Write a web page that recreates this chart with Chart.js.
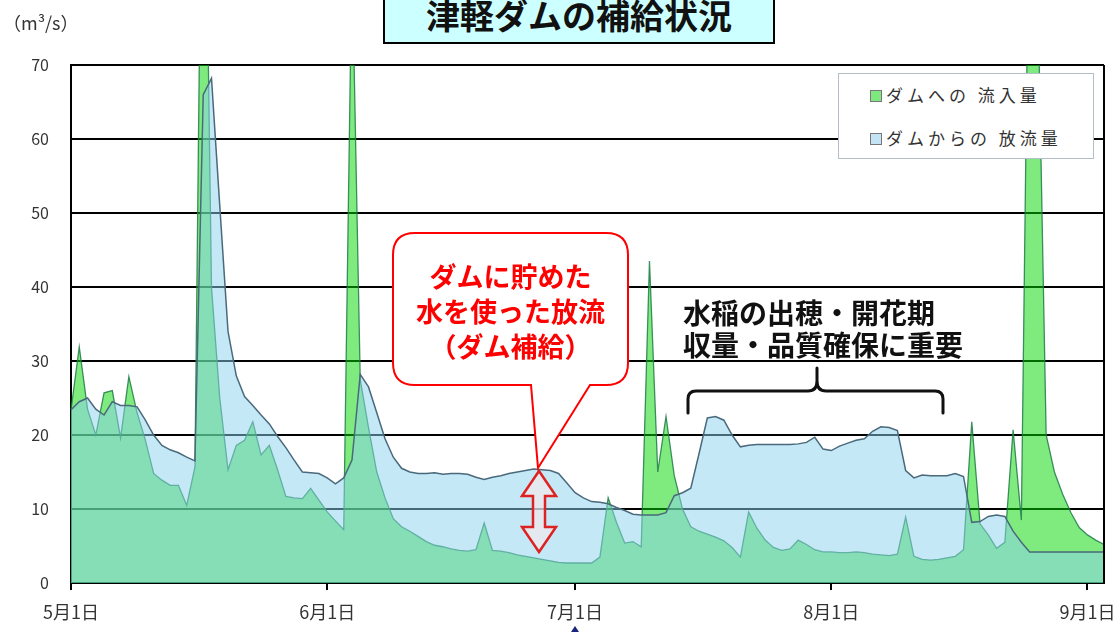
<!DOCTYPE html>
<html><head><meta charset="utf-8">
<script src="https://cdn.jsdelivr.net/npm/chart.js@4.4.1/dist/chart.umd.min.js"></script>
<style>
html,body{margin:0;padding:0;background:#fff;}
#wrap{position:relative;width:1114px;height:632px;overflow:hidden;font-family:"Noto Sans CJK JP","Noto Sans",sans-serif;}
canvas{position:absolute;left:0;top:0;}
.abs{position:absolute;white-space:nowrap;}
#title{left:383px;top:-12px;width:388px;height:52px;border:2px solid #000;background:#ccffff;}
#titleText{left:383px;top:-6px;width:392px;text-align:center;font-size:34px;font-weight:bold;line-height:42px;color:#111;}
#unit{left:3px;top:9px;font-size:18px;color:#333;}
#legend{left:838px;top:73px;width:254px;height:84px;border:1px solid #b4bcc4;background:#fff;}
.li{position:absolute;left:31px;font-size:17px;letter-spacing:4px;color:#333;line-height:20px;}
.sw{display:inline-block;width:10px;height:10px;border:1px solid #777;margin-right:4px;vertical-align:0px;}
#callout{left:393px;top:258px;width:235px;text-align:center;font-size:27px;font-weight:bold;line-height:35px;color:#ff0000;}
#noteBg{left:665px;top:291px;width:320px;height:66px;background:#fff;}
#note{left:683px;top:296px;font-size:28px;font-weight:bold;line-height:32px;color:#111;}
</style></head>
<body>
<div id="wrap">
<canvas id="c" width="1114" height="632"></canvas>
<div id="title" class="abs"></div>
<div id="titleText" class="abs">津軽ダムの補給状況</div>
<div id="unit" class="abs">（m³/s）</div>
<div id="legend" class="abs">
  <div class="li" style="top:11px;"><span class="sw" style="background:#7fe87f;"></span>ダムへの 流入量</div>
  <div class="li" style="top:54px;"><span class="sw" style="background:#c4e4f4;"></span>ダムからの 放流量</div>
</div>
<div id="noteBg" class="abs"></div>
<div id="note" class="abs">水稲の出穂・開花期<br>収量・品質確保に重要</div>
<div id="callout" class="abs">ダムに貯めた<br>水を使った放流<br>（ダム補給）</div>
</div>
<script>
// ---- data ----
const monthNames = [5, 6, 7, 8, 9];
const monthLengths = [31, 30, 31, 31, 3];
const yTicks = [0, 10, 20, 30, 40, 50, 60, 70];

const inflow = [
  23.4, 31.9, 23.5, 20.0, 25.7, 26.0, 19.6, 27.9, 23.0, 19.3,
  14.8, 13.9, 13.2, 13.2, 10.5, 15.7, 120, 40, 25, 15.3,
  18.6, 19.3, 21.8, 17.3, 18.6, 15.3, 11.7, 11.5, 11.4, 12.8,
  11.2, 9.6, 8.4, 7.2, 85, 27.5, 21, 15, 11.5, 8.7,
  7.6, 7.0, 6.3, 5.6, 5.1, 4.9, 4.6, 4.4, 4.3, 4.5,
  8.1, 4.4, 4.3, 4.1, 3.8, 3.6, 3.4, 3.2, 3.0, 2.8,
  2.7, 2.7, 2.7, 2.7, 3.5, 11.5, 8.2, 5.4, 5.6, 4.9,
  43.5, 15, 22.5, 14.5, 10, 7.6, 7.0, 6.6, 6.2, 5.7,
  4.8, 3.5, 9.6, 7.4, 5.8, 4.8, 4.4, 4.6, 5.8, 5.2,
  4.5, 4.2, 4.2, 4.1, 4.1, 4.2, 4.1, 3.9, 3.8, 3.7,
  3.9, 8.9, 3.6, 3.2, 3.1, 3.2, 3.4, 3.6, 4.5, 21.8,
  8.0, 6.5, 4.7, 5.5, 20.7, 8.5, 100, 80, 20, 15,
  12, 9.5, 7.5, 6.5, 5.8, 5.2
];
const outflow = [
  23.4, 24.5, 25.0, 23.5, 22.7, 24.5, 24.0, 24.0, 23.8, 22.0,
  20.0, 18.6, 18.0, 17.6, 17.0, 16.5, 66, 68.2, 51, 34,
  28, 25.2, 24, 22.7, 21.5, 19.8, 18.3, 16.6, 15, 14.9,
  14.8, 14.2, 13.4, 14.2, 16.6, 28.2, 26.5, 23, 19.5, 17,
  15.5, 15, 14.8, 14.8, 14.9, 14.7, 14.8, 14.8, 14.7, 14.3,
  14.0, 14.3, 14.5, 14.8, 15.0, 15.2, 15.4, 15.3, 15.2, 14.8,
  13.5, 12.2, 11.5, 11.0, 10.9, 10.7, 10.2, 9.8, 9.3, 9.2,
  9.2, 9.2, 9.5, 11.8, 12.2, 12.8, 17.5, 22.3, 22.5, 22.0,
  20.0, 18.4, 18.6, 18.7, 18.7, 18.7, 18.7, 18.7, 18.8, 19.0,
  19.7, 18.1, 17.9, 18.5, 18.9, 19.3, 19.5, 20.5, 21.1, 21.0,
  20.6, 15.2, 14.2, 14.6, 14.5, 14.5, 14.5, 14.8, 14.4, 8.2,
  8.3, 9.0, 9.2, 9.0, 7.0, 5.5, 4.2, 4.2, 4.2, 4.2,
  4.2, 4.2, 4.2, 4.2, 4.2, 4.2
];

const dates = [];
monthNames.forEach((m, i) => { for (let d = 1; d <= monthLengths[i]; d++) dates.push(m + '月' + d + '日'); });

const FONT = '"Noto Sans CJK JP","Noto Sans",sans-serif';

const overlay = {
  id: 'overlay',
  afterDraw(chart) {
    const ctx = chart.ctx, a = chart.chartArea;
    ctx.save();
    // right frame
    ctx.strokeStyle = '#000'; ctx.lineWidth = 2;
    ctx.beginPath(); ctx.moveTo(a.right, a.top); ctx.lineTo(a.right, a.bottom); ctx.stroke();
    // callout bubble
    const L = 393, R = 628, T = 233, B = 385, r = 22;
    ctx.beginPath();
    ctx.moveTo(L + r, T);
    ctx.lineTo(R - r, T); ctx.quadraticCurveTo(R, T, R, T + r);
    ctx.lineTo(R, B - r); ctx.quadraticCurveTo(R, B, R - r, B);
    ctx.lineTo(590, B); ctx.lineTo(538, 468); ctx.lineTo(531, B);
    ctx.lineTo(L + r, B); ctx.quadraticCurveTo(L, B, L, B - r);
    ctx.lineTo(L, T + r); ctx.quadraticCurveTo(L, T, L + r, T);
    ctx.closePath();
    ctx.fillStyle = '#fff'; ctx.fill();
    ctx.strokeStyle = '#ff0000'; ctx.lineWidth = 2; ctx.stroke();
    // double arrow
    const cx = 539, top = 471, bot = 552, hw = 17, sw = 6, hl = 25;
    ctx.beginPath();
    ctx.moveTo(cx, top); ctx.lineTo(cx + hw, top + hl); ctx.lineTo(cx + sw, top + hl);
    ctx.lineTo(cx + sw, bot - hl); ctx.lineTo(cx + hw, bot - hl); ctx.lineTo(cx, bot);
    ctx.lineTo(cx - hw, bot - hl); ctx.lineTo(cx - sw, bot - hl); ctx.lineTo(cx - sw, top + hl);
    ctx.lineTo(cx - hw, top + hl); ctx.closePath();
    ctx.fillStyle = 'rgba(255,235,235,0.55)'; ctx.fill();
    ctx.strokeStyle = '#dd2222'; ctx.lineWidth = 2.5; ctx.lineJoin = 'miter'; ctx.stroke();
    // bracket
    ctx.strokeStyle = '#111'; ctx.lineWidth = 3; ctx.lineCap = 'round'; ctx.lineJoin = 'round';
    ctx.beginPath();
    ctx.moveTo(688, 413); ctx.lineTo(688, 399); ctx.quadraticCurveTo(688, 391, 696, 391);
    ctx.lineTo(808, 391); ctx.quadraticCurveTo(817, 391, 817, 381); ctx.lineTo(817, 368);
    ctx.moveTo(817, 381); ctx.quadraticCurveTo(817, 391, 826, 391);
    ctx.lineTo(935, 391); ctx.quadraticCurveTo(943, 391, 943, 399); ctx.lineTo(943, 413);
    ctx.stroke();
    // small marker under 7/1
    ctx.fillStyle = '#1a237e';
    ctx.beginPath(); ctx.moveTo(575, 626); ctx.lineTo(579, 632); ctx.lineTo(571, 632); ctx.closePath(); ctx.fill();
    ctx.restore();
  }
};

new Chart(document.getElementById('c'), {
  type: 'line',
  data: {
    labels: dates,
    datasets: [
      {
        label: 'ダムからの放流量', data: outflow, fill: 'origin',
        backgroundColor: 'rgba(140,210,238,0.5)', borderColor: '#4a6a7c', borderWidth: 1.5,
        pointRadius: 0, tension: 0
      },
      {
        label: 'ダムへの流入量', data: inflow, fill: 'origin',
        backgroundColor: 'rgba(0,215,0,0.5)', borderColor: 'rgba(30,125,70,0.85)', borderWidth: 1.3,
        pointRadius: 0, tension: 0
      }
    ]
  },
  options: {
    responsive: false, animation: false, devicePixelRatio: 1,
    layout: { padding: { left: 0, top: 65, right: 10, bottom: 0 } },
    plugins: { legend: { display: false }, tooltip: { enabled: false } },
    scales: {
      x: {
        type: 'category',
        afterBuildTicks: s => { s.ticks = s.ticks.filter(t => dates[t.value].endsWith('月1日')); },
        afterFit: s => { s.height = 49; s.paddingRight = 0; s.paddingLeft = 0; },
        ticks: { autoSkip: false, maxRotation: 0, padding: 11, color: '#333', font: { family: FONT, size: 18 } },
        grid: { drawOnChartArea: false, drawTicks: true, tickLength: 7, color: '#000', lineWidth: 2 },
        border: { display: true, color: '#000', width: 2 }
      },
      y: {
        min: 0, max: 70,
        afterBuildTicks: s => { s.ticks = yTicks.map(v => ({ value: v })); },
        afterFit: s => { s.width = 71; },
        ticks: { padding: 22, color: '#333', font: { family: FONT, size: 16 } },
        grid: { drawTicks: false, color: '#000', lineWidth: 2 },
        border: { display: true, color: '#000', width: 2 }
      }
    }
  },
  plugins: [overlay]
});
</script>
</body></html>
